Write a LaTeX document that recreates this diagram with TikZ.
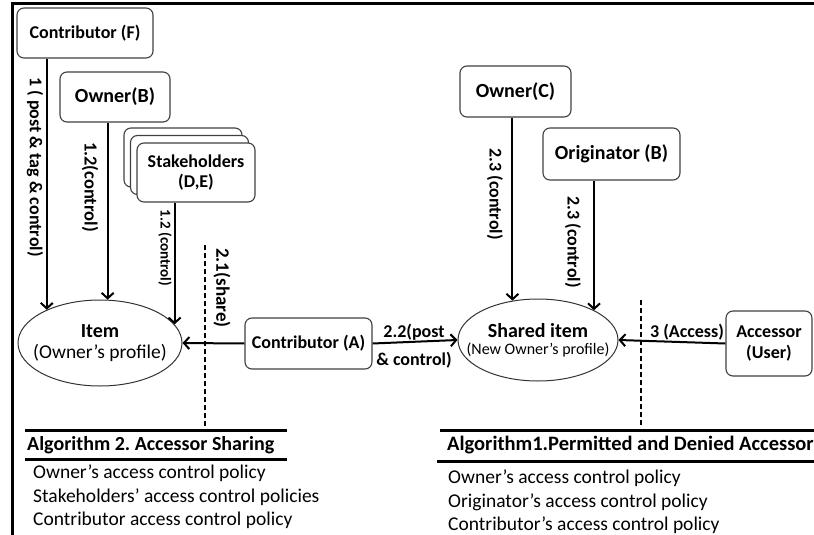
\documentclass[tikz,border=0pt]{standalone}
\usepackage{fontspec}
\setmainfont{Carlito}
\usetikzlibrary{shapes.geometric,arrows.meta,shadows}
\frenchspacing

\newcommand{\fs}[1]{\fontsize{#1}{#1}\selectfont}

\begin{document}
\begin{tikzpicture}[x=1pt,y=-1pt,
	box/.style={draw=black!75,line width=1.1pt,rounded corners=7pt,fill=white,align=center,font=\fs{18}\bfseries,inner sep=0pt},
	blob/.style={ellipse,draw=black!80,line width=1pt,inner ysep=0pt,align=center},
	lbl/.style={rotate=-90,font=\fs{18.5}\bfseries,inner sep=0pt},
	arr/.style={line width=2pt,-{Straight Barb[length=5.5pt,width=12pt]}},
	rule/.style={line width=3pt},
	txt/.style={anchor=west,font=\fs{19.5},inner sep=0pt}]
	\useasboundingbox (0,0) rectangle (814,535);
	\clip (0,0) rectangle (814,535);
	% frame
	\draw[line width=3pt] (12,540) -- (12,3.5) -- (820,3.5);
	% boxes
	\node[box,minimum width=136pt,minimum height=50pt] (cf) at (85,33) {Contributor (F)};
	\node[box,minimum width=110pt,minimum height=50pt,font=\fs{20}\bfseries] (ownb) at (115,97) {Owner(B)};
	\node[box,minimum width=118pt,minimum height=59pt,
		copy shadow={shadow xshift=-13pt,shadow yshift=15pt,draw=black!75,fill=white},
		copy shadow={shadow xshift=-6.5pt,shadow yshift=7.5pt,draw=black!75,fill=white}] (stake) at (196,172.5) {Stakeholders\\[2pt](D,E)};
	\node[box,minimum width=127pt,minimum height=51pt] (ca) at (308.5,343.5) {Contributor (A)};
	\node[box,minimum width=111pt,minimum height=51pt,font=\fs{20}\bfseries] (ownc) at (515.5,91.5) {Owner(C)};
	\node[box,minimum width=137pt,minimum height=52pt,font=\fs{20}\bfseries] (orig) at (611.5,154) {Originator (B)};
	\node[box,minimum width=86pt,minimum height=65pt] (acc) at (769,343.5) {Accessor\\[3pt](User)};
	% items
	\node[blob,inner xsep=-10pt,minimum width=164pt,minimum height=86pt] (item) at (100,343)
		{{\fs{20}\bfseries Item}\\[5pt]{\fs{19.5}(Owner’s profile)}};
	\node[blob,inner xsep=-16pt,minimum width=160pt,minimum height=82pt] (shared) at (538,340)
		{{\fs{20}\bfseries Shared item}\\[5pt]{\fs{16}(New Owner’s profile)}};
	% connectors
	\draw[arr] (item.148 |- cf.south) -- (item.148);
	\draw[arr] (item.80 |- ownb.south) -- (item.80);
	\draw[arr] (item.14 |- stake.south) -- (item.14);
	\draw[arr] (ca.west) -- (item.east);
	\draw[arr] (ca.east) -- (shared.west);
	\draw[arr] (shared.123 |- ownc.south) -- (shared.123);
	\draw[arr] (shared.28 |- orig.south) -- (shared.28);
	\draw[arr] (acc.west) -- (shared.east);
	% dashed borders
	\draw[line width=2pt,dashed,dash pattern=on 5pt off 3pt] (205,245) -- (205,426);
	\draw[line width=2pt,dashed,dash pattern=on 5pt off 3pt] (641,300) -- (641,426);
	% labels
	\node[lbl,font=\fs{18}\bfseries] (l1) at (35,167) {1 ( post \& tag \& control)};
	\node[lbl] (l12a) at (90,187) {1.2(control)};
	\node[lbl,font=\fs{15}\bfseries] (l12b) at (165,248) {1.2 (control)};
	\node[lbl,font=\fs{19}\bfseries] (l21) at (222,288) {2.1(share)};
	\node[font=\fs{18}\bfseries,inner sep=0pt] (l22a) at (414,332) {2.2(post};
	\node[font=\fs{18}\bfseries,inner sep=0pt] (l22b) at (414,360) {\& control)};
	\node[lbl,font=\fs{18}\bfseries] (l23a) at (495,194) {2.3 (control)};
	\node[lbl,font=\fs{18}\bfseries] (l23b) at (573,242) {2.3 (control)};
	\node[font=\fs{18}\bfseries,inner sep=0pt] (l3) at (687,332) {3 (Access)};
	% algorithm 2
	\draw[rule] (25,430) -- (287,430);
	\node[txt,font=\fs{20}\bfseries] (alg2) at (27,445) {Algorithm 2. Accessor Sharing};
	\draw[rule] (25,459) -- (287,459);
	\node[txt] (alg2a) at (33,473) {Owner’s access control policy};
	\node[txt] (alg2b) at (33,497) {Stakeholders' access control policies};
	\node[txt] (alg2c) at (33,520) {Contributor access control policy};
	% algorithm 1
	\draw[rule] (440,430) -- (820,430);
	\node[txt,font=\fs{20.5}\bfseries] (alg1) at (447,445) {Algorithm1.Permitted and Denied Accessors};
	\draw[rule] (437,461) -- (820,461);
	\node[txt] (alg1a) at (448,478) {Owner’s access control policy};
	\node[txt] (alg1b) at (448,502) {Originator’s access control policy};
	\node[txt] (alg1c) at (448,525) {Contributor’s access control policy};
\end{tikzpicture}
\end{document}
